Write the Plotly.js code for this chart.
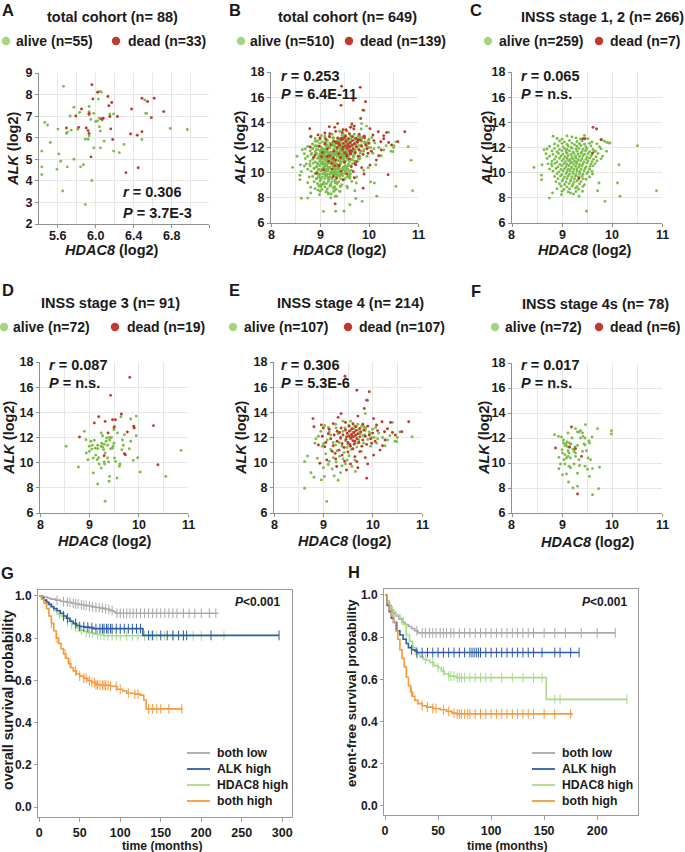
<!DOCTYPE html>
<html><head><meta charset="utf-8">
<script src="https://cdn.plot.ly/plotly-3.0.1.min.js"></script>
<style>html,body{margin:0;padding:0;background:#fff}#plot{width:685px;height:852px}</style>
</head><body><div id="plot"></div>
<script>
// ---------------- DATA ----------------
// Panel A: total cohort (n=88), [HDAC8, ALK]
const aAlive = [[5.66,8.38],[5.43,5.38],[5.43,4.65],[5.43,4.29],[5.46,6.71],[5.49,6.59],[5.52,5.78],[5.60,6.40],[5.61,5.25],[5.63,4.91],[5.59,4.53],[5.65,3.53],[5.70,4.65],[5.69,6.20],[5.70,6.25],[5.73,7.01],[5.74,6.35],[5.77,7.41],[5.77,5.00],[5.81,6.39],[5.83,7.17],[5.84,4.65],[5.87,4.75],[5.96,4.02],[5.89,2.90],[5.89,5.93],[5.92,5.93],[5.93,7.45],[5.93,7.21],[5.93,6.09],[5.95,6.85],[5.98,7.13],[5.98,5.53],[6.00,6.75],[6.02,6.78],[6.03,7.79],[6.06,8.12],[6.04,8.14],[6.04,6.90],[6.04,6.51],[6.05,6.31],[6.05,5.53],[6.07,6.82],[6.09,5.84],[6.15,7.10],[6.19,7.10],[6.19,5.38],[6.25,5.31],[6.30,5.69],[6.49,5.92],[6.52,7.75],[6.53,7.13],[6.54,7.13],[6.79,6.43],[6.97,6.38]];
const aDead = [[5.96,8.46],[6.02,8.11],[6.13,7.91],[6.17,7.63],[6.14,7.48],[5.97,7.80],[5.85,7.33],[5.79,7.01],[5.93,7.13],[5.93,7.08],[6.06,6.87],[6.15,6.98],[6.23,6.98],[5.69,6.45],[5.82,6.48],[5.90,6.45],[5.92,6.33],[5.93,6.20],[6.16,6.41],[6.18,5.92],[5.95,5.11],[6.38,7.33],[6.49,7.83],[6.55,7.68],[6.62,7.83],[6.59,6.93],[6.72,7.21],[6.37,6.17],[6.44,6.12],[6.49,6.28],[6.32,4.38],[6.45,4.61],[6.08,6.90]];

// Panel C: INSS stage 1, 2 (n=266)
const cAlive = [[8.44,10.42],[8.59,9.79],[8.59,9.44],[8.60,10.63],[8.64,11.82],[8.75,7.98],[8.81,8.38],[8.79,10.70],[8.82,12.89],[10.51,12.14],[10.89,8.56],[9.86,7.72],[9.49,6.93],[10.14,10.63],[10.11,9.18],[10.16,8.12],[9.74,9.18],[9.71,8.56],[9.94,12.36],[9.96,12.36],[9.89,11.70],[9.81,11.30],[9.80,12.62],[9.67,11.70],[8.99,8.25],[9.17,8.38],[9.34,8.12],[9.23,8.30],[9.27,8.78],[9.41,8.51],[9.61,9.89],
[9.10,12.92],[9.20,12.84],[9.45,12.95],
[8.90,12.72],[9.00,12.66],[9.28,12.75],[9.37,12.68],[9.52,12.70],
[8.95,12.52],[9.05,12.45],[9.15,12.56],[9.30,12.48],[9.40,12.53],[9.60,12.44],[9.85,12.50],[9.90,12.40],
[8.85,12.28],[9.00,12.33],[9.10,12.25],[9.20,12.35],[9.25,12.22],[9.35,12.30],[9.45,12.26],[9.55,12.34],[9.70,12.29],
[8.75,12.08],[8.92,12.14],[9.02,12.05],[9.12,12.12],[9.18,12.02],[9.30,12.10],[9.38,12.16],[9.48,12.04],[9.58,12.12],[9.75,12.06],
[8.70,11.88],[8.85,11.93],[8.95,11.85],[9.05,11.92],[9.10,11.84],[9.20,11.95],[9.28,11.87],[9.34,11.93],[9.42,11.86],[9.50,11.91],[9.62,11.84],[9.78,11.90],
[8.80,11.72],[8.90,11.66],[9.00,11.74],[9.08,11.68],[9.15,11.73],[9.22,11.65],[9.30,11.71],[9.40,11.67],[9.47,11.74],[9.55,11.66],[9.65,11.70],
[8.68,11.50],[8.82,11.45],[8.93,11.53],[9.02,11.47],[9.10,11.55],[9.18,11.44],[9.24,11.52],[9.32,11.48],[9.38,11.54],[9.45,11.46],[9.52,11.51],[9.60,11.45],[9.72,11.52],
[8.75,11.30],[8.88,11.26],[8.98,11.33],[9.06,11.27],[9.12,11.34],[9.20,11.25],[9.27,11.31],[9.35,11.28],[9.42,11.35],[9.50,11.24],[9.58,11.32],[9.68,11.27],
[8.70,11.12],[8.85,11.06],[8.95,11.14],[9.03,11.08],[9.10,11.13],[9.16,11.05],[9.22,11.10],[9.28,11.15],[9.33,11.04],[9.40,11.11],[9.48,11.07],[9.55,11.14],[9.63,11.06],[9.78,11.10],
[8.80,10.92],[8.90,10.86],[9.00,10.94],[9.07,10.88],[9.13,10.95],[9.19,10.85],[9.25,10.91],[9.30,10.87],[9.37,10.94],[9.44,10.86],[9.52,10.92],[9.60,10.88],[9.70,10.93],
[8.72,10.70],[8.86,10.74],[8.96,10.66],[9.04,10.72],[9.10,10.67],[9.17,10.75],[9.23,10.68],[9.29,10.73],[9.35,10.65],[9.42,10.71],[9.50,10.76],[9.58,10.68],[9.66,10.72],
[8.80,10.52],[8.92,10.46],[9.00,10.54],[9.08,10.48],[9.14,10.55],[9.20,10.45],[9.27,10.51],[9.34,10.47],[9.40,10.53],[9.48,10.46],[9.56,10.50],[9.62,10.54],
[8.75,10.28],[8.88,10.33],[8.98,10.26],[9.05,10.32],[9.12,10.27],[9.18,10.34],[9.24,10.25],[9.30,10.31],[9.38,10.28],[9.46,10.33],[9.55,10.27],
[8.82,10.12],[8.94,10.06],[9.02,10.13],[9.10,10.07],[9.16,10.14],[9.22,10.05],[9.30,10.11],[9.36,10.08],[9.44,10.13],[9.52,10.06],[9.60,10.10],
[8.90,9.92],[9.00,9.86],[9.08,9.93],[9.15,9.87],[9.22,9.94],[9.28,9.85],[9.35,9.91],[9.42,9.88],[9.50,9.93],
[8.85,9.70],[8.97,9.74],[9.05,9.66],[9.12,9.72],[9.20,9.67],[9.27,9.73],[9.33,9.68],[9.40,9.72],[9.55,9.66],
[8.92,9.52],[9.02,9.46],[9.10,9.53],[9.18,9.47],[9.25,9.52],[9.32,9.45],[9.42,9.51],[9.48,9.48],
[8.88,9.28],[9.00,9.33],[9.08,9.26],[9.17,9.31],[9.24,9.27],[9.30,9.34],[9.38,9.29],
[8.95,9.12],[9.05,9.06],[9.14,9.13],[9.22,9.08],[9.35,9.11],[9.45,9.05],
[8.98,8.92],[9.10,8.87],[9.20,8.93],[9.30,8.88],[9.42,8.91],
[8.90,8.72],[9.04,8.66],[9.15,8.70],[9.33,8.68],
[9.00,8.52],[9.12,8.47],[9.28,8.50]];
const cDead = [[9.62,13.60],[9.69,13.47],[9.42,12.70],[9.46,12.70],[9.78,12.62],[9.61,11.56],[9.34,9.57]];

// Panel D: INSS stage 3 (n=91)
const dAlive = [[8.53,11.30],[8.78,9.65],[8.90,12.49],[8.93,11.82],[8.94,10.77],[8.97,10.23],[9.00,10.90],[9.03,11.70],[9.05,11.08],[9.06,11.38],[9.10,11.78],[9.12,11.14],[9.13,10.60],[9.16,10.23],[9.19,10.40],[9.08,9.18],[9.17,8.30],[9.20,9.89],[9.24,11.30],[9.25,11.54],[9.27,11.22],[9.29,11.04],[9.30,11.46],[9.32,10.77],[9.34,11.70],[9.35,11.96],[9.37,11.38],[9.40,12.01],[9.41,11.80],[9.43,11.96],[9.45,12.01],[9.47,11.14],[9.48,11.30],[9.50,11.54],[9.51,10.37],[9.53,10.10],[9.39,10.05],[9.41,8.91],[9.40,8.52],[9.30,10.05],[9.31,9.89],[9.56,8.78],[9.61,9.71],[9.62,9.89],[9.66,11.03],[9.67,11.80],[9.71,12.22],[9.64,13.65],[9.69,11.38],[9.81,11.11],[9.84,13.47],[9.95,13.70],[9.89,10.18],[9.98,10.40],[9.95,12.14],[9.84,11.70],[10.03,9.26],[10.55,8.91],[10.86,10.98],[9.50,12.62],[9.57,12.36],[9.51,12.89],[9.27,12.14],[9.24,12.36],[9.17,11.38],[9.00,11.30],[9.08,10.37],[9.24,9.57],[9.37,10.37],[9.32,6.93],[9.17,11.10],[9.43,11.10]];
const dDead = [[9.82,16.78],[9.43,15.35],[9.65,13.87],[9.19,13.65],[9.47,13.41],[9.53,13.41],[9.10,13.15],[9.32,13.28],[9.90,12.89],[9.91,12.75],[10.30,12.94],[9.50,12.80],[9.38,12.36],[9.77,12.44],[8.80,12.04],[9.30,10.55],[9.71,10.71],[9.73,10.63],[10.39,9.84]];

// Panel E: INSS stage 4 (n=214)
const eAlive = [[8.62,10.08],[8.68,10.53],[8.62,7.97],[8.81,8.84],[9.02,8.90],[8.96,8.63],[9.07,6.92],[8.83,11.54],[9.90,14.95],[9.85,13.90],
[10.80,12.06],[10.49,11.67],[10.08,11.54],[10.55,12.45],[10.40,13.20],[10.45,11.70],[10.35,12.15],[10.20,12.00],[10.25,11.35],[10.10,11.90],
[9.95,12.30],[9.85,12.55],[9.78,12.90],[9.70,13.05],[9.62,12.95],[9.55,13.30],[9.40,13.30],[9.25,13.05],[9.10,12.80],[8.95,12.50],
[8.90,12.10],[8.98,11.30],[9.05,10.70],[9.12,10.10],[9.18,9.50],[9.22,8.95],[9.30,8.60],[9.35,9.20],[9.00,9.60],[8.88,10.35],
[8.75,9.20],[9.15,11.05],[9.20,11.60],[9.28,10.95],[9.33,10.50],[9.38,11.30],[9.42,10.80],[9.45,11.75],[9.48,11.20],[9.50,12.25],
[9.52,10.55],[9.55,11.90],[9.57,11.05],[9.60,12.40],[9.62,11.45],[9.64,10.20],[9.66,12.10],[9.68,11.25],[9.70,12.60],[9.72,11.80],
[9.75,12.30],[9.77,10.90],[9.80,12.15],[9.82,11.55],[9.86,12.75],[9.90,11.85],[9.93,12.45],[9.96,11.30],[10.00,12.65],[10.03,12.00],
[10.06,12.80],[9.30,12.30],[9.35,11.90],[9.40,12.50],[9.25,11.40],[9.15,12.20],[9.08,11.80],[9.00,11.50],[9.20,10.40],[9.10,9.85],
[9.45,9.90],[9.58,9.70],[9.65,9.30],[9.48,10.20],[9.38,9.75],[9.26,10.05],[9.44,12.75],[9.52,12.95],[9.62,12.70],[9.74,12.45],
[9.84,12.20],[9.98,12.00],[10.12,12.35],[10.30,11.80],[10.50,12.00],[9.56,12.60],[9.66,12.85],[9.32,11.60],[9.40,10.30],[9.50,11.45],
[9.58,12.05],[9.70,11.55],[9.82,12.85],[9.12,12.45],[9.03,12.95],[8.85,11.90],[9.26,12.75]];
const eDead = [[9.44,16.87],[9.68,15.76],[9.93,15.63],[9.88,14.97],[9.83,14.30],[9.36,13.90],[9.70,13.70],[10.19,13.25],[10.73,13.25],[10.36,13.20],[8.79,13.50],[8.81,12.85],[8.96,13.00],[9.20,13.10],[9.30,13.60],[10.02,13.50],[10.08,12.99],[9.74,12.72],[10.24,12.46],[10.59,12.46],[10.46,12.20],[10.25,11.80],[9.98,11.54],[10.15,11.00],[10.02,10.60],[9.74,10.88],[9.64,10.48],[9.03,11.27],[9.24,10.74],[9.07,10.22],[8.93,9.95],[9.27,9.69],[9.47,9.42],[9.68,10.08],[9.88,8.77],
[8.98,12.10],[9.10,12.30],[9.05,11.60],[9.15,11.90],[9.22,12.20],[9.28,11.70],[9.33,12.40],[9.35,12.00],[9.38,11.50],[9.40,12.20],[9.42,11.20],[9.45,12.60],[9.46,11.85],[9.48,12.35],[9.50,11.60],[9.52,12.10],[9.53,12.50],[9.55,11.30],[9.56,11.95],[9.57,12.25],[9.58,12.70],[9.60,11.75],[9.61,12.05],[9.62,12.40],[9.63,11.50],[9.65,12.20],[9.66,12.85],[9.68,11.90],[9.70,12.30],[9.72,11.60],[9.74,12.05],[9.76,12.45],[9.78,11.30],[9.80,11.80],[9.82,12.60],[9.85,12.10],[9.88,11.45],[9.90,12.90],[9.93,12.20],[9.96,11.90],[10.00,12.35],[10.05,11.70],[10.10,12.55],[10.30,12.70],[10.40,12.40],[9.20,11.35],[9.25,10.30],[9.32,11.00],[9.38,10.60],[9.43,10.10],[9.50,10.85],[9.55,9.90],[9.60,11.10],[9.70,9.60],[9.85,10.40],[9.90,9.90],[9.12,12.65],[9.18,10.90],[9.00,12.75],[8.90,11.40],[9.60,13.10],[9.45,13.20],[9.52,12.90],[9.58,12.15],[9.64,11.70],[9.47,12.05],[9.54,11.45],[9.66,12.55],[9.36,12.75],[9.28,12.50],[9.80,13.05],[10.20,11.35]];

// Panel F: INSS stage 4s (n=78)
const fAlive = [[8.85,12.27],[8.93,12.13],[8.99,12.08],[9.03,11.60],[9.00,11.07],[9.06,11.41],[9.08,11.52],[9.10,11.68],[9.15,11.60],[9.18,11.52],[9.10,11.33],[9.12,10.98],[9.14,10.80],[9.12,10.53],[9.09,10.40],[9.06,10.67],[8.94,10.45],[9.04,10.27],[8.97,9.92],[8.94,9.54],[9.06,9.92],[9.14,9.75],[9.17,9.62],[9.09,9.12],[9.13,8.48],[9.22,8.00],[9.31,8.13],[9.35,9.80],[9.34,10.27],[9.27,10.53],[9.24,10.93],[9.26,11.28],[9.31,11.41],[9.37,12.00],[9.42,12.13],[9.46,12.00],[9.37,12.58],[9.27,12.75],[9.47,13.07],[9.44,11.52],[9.41,10.93],[9.49,10.98],[9.54,11.76],[9.55,11.60],[9.60,12.08],[9.52,10.40],[9.57,10.27],[9.46,9.75],[9.51,9.50],[9.61,9.55],[9.55,8.93],[9.61,7.46],[9.73,7.95],[9.75,9.66],[9.71,12.75],[9.99,12.58],[9.99,12.32],[9.27,10.80],[9.17,10.40],[9.01,10.80],[9.20,12.00],[9.12,12.40],[9.31,12.48],[9.24,9.92],[9.15,11.25],[9.03,11.84],[9.41,12.40],[9.31,9.18],[9.01,9.05],[9.46,11.44],[9.34,12.48],[9.22,11.10]];
const fDead = [[9.19,12.88],[8.87,11.20],[9.15,11.28],[9.27,11.14],[9.39,10.53],[9.31,7.52]];

// Panel G: overall survival (Kaplan-Meier), months / probability
const gLowT  = [0,5,10,14,20,26,30,34,40,45,50,55,60,65,70,75,80,85,88,92,94,221];
const gLowS  = [1,0.995,0.99,0.985,0.98,0.975,0.973,0.97,0.965,0.962,0.958,0.955,0.952,0.948,0.945,0.942,0.938,0.935,0.93,0.925,0.918,0.918];
const gLowC  = [22,30,35,38,42,45,48,52,55,58,62,66,70,74,78,82,86,90,96,100,104,108,112,116,120,125,130,135,140,145,150,155,160,165,170,178,185,192,200,210,218];
const gAlkT  = [0,3,6,9,12,15,18,22,26,30,34,38,42,46,50,56,62,67,128,296];
const gAlkS  = [1,0.99,0.98,0.97,0.96,0.95,0.94,0.93,0.918,0.905,0.894,0.88,0.87,0.86,0.855,0.852,0.85,0.845,0.813,0.813];
const gAlkC  = [30,35,45,50,55,60,65,70,75,78,80,83,85,88,90,95,100,105,110,115,120,125,135,140,150,158,165,172,178,182,212,296];
const gHdT   = [0,3,6,10,14,18,22,26,30,35,40,45,50,55,60,67,72,79,231];
const gHdS   = [1,0.99,0.975,0.96,0.945,0.93,0.915,0.905,0.895,0.88,0.865,0.85,0.838,0.83,0.825,0.82,0.816,0.811,0.811];
const gHdC   = [25,35,40,45,48,52,58,62,66,72,76,80,85,90,95,100,108,115,122,130,138,145,155,165,178,190,200,228];
const gBothT = [0,3,6,9,12,15,18,21,24,27,30,33,36,39,42,46,50,55,60,65,70,75,88,96,103,108,118,125,129,132,177];
const gBothS = [1,0.985,0.965,0.94,0.905,0.87,0.835,0.8,0.775,0.75,0.725,0.705,0.68,0.66,0.645,0.63,0.62,0.61,0.598,0.59,0.58,0.577,0.572,0.558,0.55,0.539,0.535,0.53,0.507,0.465,0.465];
const gBothC = [15,22,32,38,45,50,55,58,62,65,68,70,72,75,78,80,82,85,88,95,100,110,118,122,135,140,145,150,160,176];

// Panel H: event-free survival
const hLowT  = [0,2,4,6,8,10,13,16,19,22,25,28,31,217];
const hLowS  = [1,0.97,0.95,0.93,0.91,0.9,0.885,0.87,0.86,0.85,0.84,0.83,0.82,0.82];
const hLowC  = [30,35,38,42,45,48,52,55,58,62,65,70,75,80,85,90,95,100,105,110,115,120,125,130,135,140,150,160,170,185,200,217];
const hAlkT  = [0,2,4,6,8,11,14,17,20,22,25,28,30,183];
const hAlkS  = [1,0.95,0.92,0.89,0.87,0.83,0.81,0.79,0.77,0.75,0.74,0.735,0.727,0.727];
const hAlkC  = [25,30,35,40,45,50,55,60,65,70,75,80,82,84,86,88,90,95,100,105,110,115,120,125,130,135,140,148,160,165,175,183];
const hHdT   = [0,2,4,7,10,14,17,20,23,26,29,33,36,39,42,46,50,53,56,60,67,152,228];
const hHdS   = [1,0.97,0.94,0.92,0.905,0.89,0.86,0.81,0.78,0.75,0.72,0.705,0.695,0.69,0.68,0.665,0.655,0.64,0.625,0.615,0.608,0.505,0.505];
const hHdC   = [20,30,38,45,50,55,60,62,65,68,70,72,75,80,85,90,95,100,110,120,130,140,148,160,165,228];
const hBothT = [0,2,4,6,8,10,12,14,16,18,20,22,24,26,28,31,35,39,45,52,58,63,67,177];
const hBothS = [1,0.96,0.93,0.9,0.87,0.83,0.79,0.74,0.7,0.66,0.61,0.57,0.54,0.52,0.5,0.485,0.475,0.468,0.462,0.456,0.448,0.44,0.436,0.436];
const hBothC = [25,35,40,45,48,55,60,65,68,70,72,75,78,80,85,90,95,100,105,110,115,120,125,130,135,140,150,160,175];

const kmGroups = ['both low','ALK high','HDAC8 high','both high'];
const aXTicks = [5.6,6.0,6.4,6.8];
const sXTicks = [8,9,10,11];

// ---------------- STYLE / LAYOUT ----------------
const W = 685, H = 852;
const FONT = 'Liberation Sans, Arial, Helvetica, sans-serif';
const INK = '#1a1a1a';
const GREEN = '#7cbc48', RED = '#bf3a2b';
const LEG_GREEN = '#a4d682', LEG_RED = '#c0392b';
const KM_COL = ['#a9a9a9','#2c5ca8','#a9da8c','#f59a3d'];
const px = v => v / W, py = v => 1 - v / H;

const traces = [];
function scat(pts, color, ax) {
  traces.push({type:'scatter', mode:'markers', x: pts.map(p=>p[0]), y: pts.map(p=>p[1]),
    xaxis:'x'+ax, yaxis:'y'+ax, marker:{size:2.9, color:color, line:{width:0}}, hoverinfo:'skip'});
}
const bAlive = cAlive.concat(dAlive, eAlive, fAlive);
const bDead = cDead.concat(dDead, eDead, fDead);
scat(aAlive, GREEN, ''); scat(aDead, RED, '');
scat(bAlive, GREEN, '2'); scat(bDead, RED, '2');
scat(cAlive, GREEN, '3'); scat(cDead, RED, '3');
scat(dAlive, GREEN, '4'); scat(dDead, RED, '4');
scat(eAlive, GREEN, '5'); scat(eDead, RED, '5');
scat(fAlive, GREEN, '6'); scat(fDead, RED, '6');

function survAt(t, s, x) { let v = s[0]; for (let i = 0; i < t.length; i++) { if (t[i] <= x) v = s[i]; else break; } return v; }
function km(T, S, C, color, ax) {
  traces.push({type:'scatter', mode:'lines', x:T, y:S, line:{shape:'hv', color:color, width:1.6},
    xaxis:'x'+ax, yaxis:'y'+ax, hoverinfo:'skip'});
  traces.push({type:'scatter', mode:'markers', x:C, y:C.map(c=>survAt(T,S,c)),
    marker:{symbol:'line-ns', size:7, line:{width:1, color:color}, color:color},
    xaxis:'x'+ax, yaxis:'y'+ax, hoverinfo:'skip'});
}
km(gLowT,gLowS,gLowC,KM_COL[0],'7'); km(gHdT,gHdS,gHdC,KM_COL[2],'7'); km(gAlkT,gAlkS,gAlkC,KM_COL[1],'7'); km(gBothT,gBothS,gBothC,KM_COL[3],'7');
km(hLowT,hLowS,hLowC,KM_COL[0],'8'); km(hHdT,hHdS,hHdC,KM_COL[2],'8'); km(hAlkT,hAlkS,hAlkC,KM_COL[1],'8'); km(hBothT,hBothS,hBothC,KM_COL[3],'8');

const tickfont = {family:FONT, size:12.5, color:INK, weight:'bold'};
function sAxes(n, dx, dy, xr, yr, xdt, xt0, xminor, ydt) {
  const xa = {domain:[px(dx[0]),px(dx[1])], range:xr, anchor:'y'+n, showline:true, linecolor:'#8f8f8f', linewidth:1,
    ticks:'outside', ticklen:3, tickcolor:'#8f8f8f', dtick:xdt, tick0:xt0, showgrid:true, gridcolor:'#e7e7e7', gridwidth:1,
    minor:{dtick:xminor, tick0:xt0, showgrid:true, gridcolor:'#e7e7e7', ticks:''}, zeroline:false,
    showticklabels:false, fixedrange:true};
  const ya = {domain:[py(dy[1]),py(dy[0])], range:yr, anchor:'x'+n, showline:true, linecolor:'#8f8f8f', linewidth:1,
    ticks:'outside', ticklen:3, tickcolor:'#8f8f8f', dtick:ydt, tick0:yr[0], showgrid:true, gridcolor:'#e7e7e7', gridwidth:1,
    zeroline:false, tickfont:tickfont, fixedrange:true};
  return [xa, ya];
}
function kAxes(n, dx, dy, xr, yr) {
  const kf = Object.assign({}, tickfont, {size:12});
  const xa = {domain:[px(dx[0]),px(dx[1])], range:xr, anchor:'y'+n, showline:true, mirror:true, linecolor:'#9b9b9b', linewidth:1,
    ticks:'outside', ticklen:4, tickcolor:'#9b9b9b', dtick:50, tick0:0, showgrid:false, zeroline:false, tickfont:tickfont, fixedrange:true};
  const ya = {domain:[py(dy[1]),py(dy[0])], range:yr, anchor:'x'+n, showline:true, mirror:true, linecolor:'#9b9b9b', linewidth:1,
    ticks:'outside', ticklen:3, tickcolor:'#9b9b9b', tickvals:[0,0.2,0.4,0.6,0.8,1.0], ticktext:['0.0','0.2','0.4','0.6','0.8','1.0'],
    showgrid:false, zeroline:false, tickfont:kf, fixedrange:true};
  return [xa, ya];
}
const layout = {width:W, height:H, margin:{l:0,r:0,t:0,b:0}, paper_bgcolor:'#fff', plot_bgcolor:'#fff',
  showlegend:false, hovermode:false, font:{family:FONT, color:INK}, annotations:[], shapes:[]};
const sPanels = [
  ['',  [39,209],[73,224], [5.4,7.2],[2,9], 0.4,5.6,0.2,1, aXTicks],
  ['2', [271,418],[72,223],[8,11],[6,18],1,8,0.5,2, sXTicks],
  ['3', [512,662],[72,223],[8,11],[6,18],1,8,0.5,2, sXTicks],
  ['4', [40,188],[362,513],[8,11],[6,18],1,8,0.5,2, sXTicks],
  ['5', [274,422],[362,513],[8,11],[6,18],1,8,0.5,2, sXTicks],
  ['6', [512,662],[363,513],[8,11],[6,18],1,8,0.5,2, sXTicks]];
const axDefs = sPanels.map(p => sAxes(p[0],p[1],p[2],p[3],p[4],p[5],p[6],p[7],p[8])).concat([
  kAxes('7', [38,292],[590,817],[-1.5,312],[-0.047,1.028]),
  kAxes('8', [384,638],[589,815],[-1,238.5],[-0.043,1.028])]);
axDefs.forEach((d,i) => { const s = i===0 ? '' : String(i+1); layout['xaxis'+s] = d[0]; layout['yaxis'+s] = d[1]; });

function ann(text, x, y, size, opts) {
  layout.annotations.push(Object.assign({text:text, x:px(x), y:py(y), xref:'paper', yref:'paper', showarrow:false,
    font:{family:FONT, size:size, color:INK, weight:'bold'}, xanchor:'center', yanchor:'middle'}, opts||{}));
}
function dot(cx, cy, r, color) {
  layout.shapes.push({type:'circle', xref:'paper', yref:'paper', x0:px(cx-r), x1:px(cx+r), y0:py(cy+r), y1:py(cy-r),
    fillcolor:color, line:{width:0}});
}
sPanels.forEach(p => {
  const dec = p[0] === '' ? 1 : 0;
  p[9].forEach(v => layout.annotations.push({text:'<b>'+v.toFixed(dec)+'</b>', x:v, xref:'x'+p[0], y:py(p[2][1]+12), yref:'paper',
    showarrow:false, xanchor:'center', yanchor:'middle', font:{family:FONT, size:12.5, color:INK, weight:'bold'}}));
});
[['A',8,10],['B',235,10],['C',476,10],['D',8,290],['E',234,290],['F',476,291],['G',8,573],['H',354,572]]
  .forEach(l => ann('<b>'+l[0]+'</b>', l[1], l[2], 16.5));
const titles = [['total cohort (n= 88)',113,17],['total cohort (n= 649)',348,17],['INSS stage 1, 2 (n= 266)',602,17],
  ['INSS stage 3 (n= 91)',110,303],['INSS stage 4 (n= 214)',350,303],['INSS stage 4s (n= 78)',595,304]];
titles.forEach(t => ann('<b>'+t[0]+'</b>', t[1], t[2], 14.5));
const legs = [
  [6,14,'alive (n=55)',116,126,'dead (n=33)',41],
  [241,248,'alive (n=510)',349,358,'dead (n=139)',41],
  [488,497,'alive (n=259)',599,608,'dead (n=7)',41],
  [4,11,'alive (n=72)',115,125,'dead (n=19)',327],
  [233,242,'alive (n=107)',348,357,'dead (n=107)',327],
  [495,503,'alive (n=72)',599,608,'dead (n=6)',327]];
legs.forEach(l => {
  dot(l[0], l[6], 4.2, LEG_GREEN); ann('<b>'+l[2]+'</b>', l[1], l[6], 14, {xanchor:'left'});
  dot(l[3], l[6], 4.2, LEG_RED); ann('<b>'+l[5]+'</b>', l[4], l[6], 14, {xanchor:'left'});
});
const stats = [['0.306','3.7E-3',122,193,212],['0.253','6.4E-11',280,77,93],['0.065','n.s.',520,77,93],
  ['0.087','n.s.',48,366,382],['0.306','5.3E-6',280,366,382],['0.017','n.s.',520,366,382]];
stats.forEach(s => {
  ann('<b><i>r</i> = '+s[0]+'</b>', s[2], s[3]-0.8, 14.5, {xanchor:'left', borderpad:0});
  ann('<b><i>P</i> = '+s[1]+'</b>', s[2], s[4]+0.8, 14.5, {xanchor:'left', borderpad:0});
});
[[13,149],[240,148],[487,148],[9,438],[241,438],[484,438]].forEach(p =>
  ann('<b><i>ALK</i> (log2)</b>', p[0], p[1], 14.5, {textangle:-90}));
[[112,250],[340,250],[585,250],[105,541],[345,541],[588,542]].forEach(p =>
  ann('<b><i>HDAC8</i> (log2)</b>', p[0], p[1], 14.5));
ann('<b>overall survival probability</b>', 8, 700, 14.2, {textangle:-90});
ann('<b>event-free survival probability</b>', 351, 693, 13.2, {textangle:-90});
ann('<b>time (months)</b>', 162, 846, 12.2);
ann('<b>time (months)</b>', 507, 846, 12.2);
ann('<b><i>P</i>&lt;0.001</b>', 233, 602, 12, {xanchor:'left'});
ann('<b><i>P</i>&lt;0.001</b>', 580, 602, 12, {xanchor:'left'});
[[187,210,215],[532,555,560]].forEach(g => {
  [753,769,785,801].forEach((y,i) => {
    layout.shapes.push({type:'line', xref:'paper', yref:'paper', x0:px(g[0]), x1:px(g[1]), y0:py(y), y1:py(y),
      line:{color:KM_COL[i], width:1.8}});
    ann('<b>'+kmGroups[i]+'</b>', g[2], y, 12.2, {xanchor:'left'});
  });
});

Plotly.newPlot('plot', traces, layout, {staticPlot:true, displayModeBar:false});
</script>
</body></html>
